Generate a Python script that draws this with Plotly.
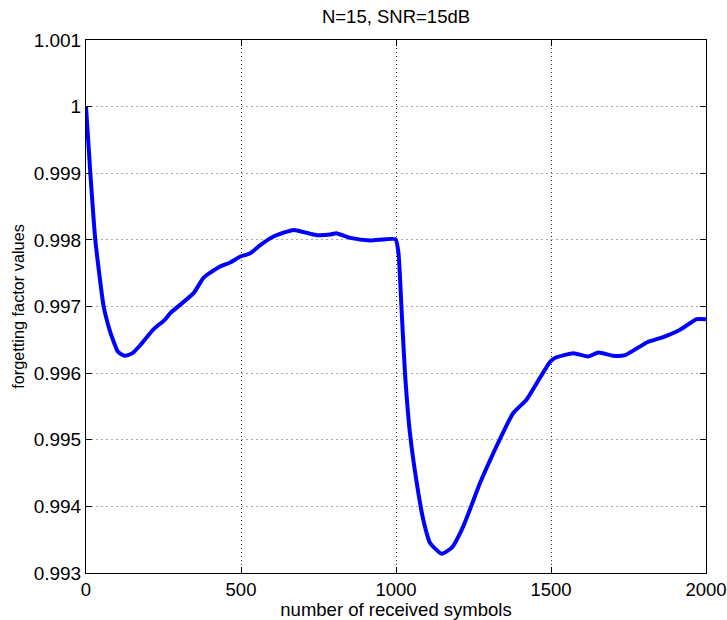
import plotly.graph_objects as go

symbols = [0, 14, 30, 57, 76, 87, 103, 125, 150, 175, 216, 254, 272, 347, 379, 428,
           465, 498, 530, 562, 605, 670, 724, 745, 788, 807, 853, 917, 998, 1008,
           1018, 1029, 1045, 1067, 1088, 1110, 1147, 1180, 1217, 1271, 1314, 1378,
           1421, 1454, 1497, 1514, 1572, 1620, 1653, 1701, 1739, 1809, 1862, 1916,
           1970, 2000]
forgetting = [1.00000, 0.99900, 0.99800, 0.99700, 0.99665, 0.99650, 0.99632, 0.99626,
              0.99630, 0.99642, 0.99665, 0.99680, 0.99690, 0.99720, 0.99743, 0.99759,
              0.99766, 0.99775, 0.99780, 0.99792, 0.99805, 0.99815, 0.99809, 0.99807,
              0.99808, 0.99810, 0.99803, 0.99799, 0.99801, 0.99780,
              0.99695, 0.99600, 0.99510, 0.99435, 0.99380, 0.99345, 0.99329, 0.99338,
              0.99370, 0.99435, 0.99480, 0.99540, 0.99560, 0.99585, 0.99617, 0.99623,
              0.99630, 0.99625, 0.99631, 0.99626, 0.99627, 0.99646, 0.99654, 0.99665,
              0.99681, 0.99681]

x_ticks = [0, 500, 1000, 1500, 2000]
y_ticks = [0.993, 0.994, 0.995, 0.996, 0.997, 0.998, 0.999, 1.0, 1.001]
y_tick_labels = ["0.993", "0.994", "0.995", "0.996", "0.997", "0.998", "0.999", "1", "1.001"]

fig = go.Figure()
fig.add_trace(go.Scatter(x=symbols, y=forgetting, mode="lines",
                         line=dict(color="#0000FF", width=4, shape="spline", smoothing=0.5),
                         showlegend=False, hoverinfo="skip"))

font = "Liberation Sans, Arial, Helvetica, sans-serif"
fig.update_layout(
    width=727, height=620,
    margin=dict(l=86, r=21, t=40, b=47, autoexpand=False),
    paper_bgcolor="white", plot_bgcolor="white",
    font=dict(family=font, size=18, color="black"),
    title=dict(text="N=15, SNR=15dB", xref="paper", x=0.5, xanchor="center",
               yref="container", y=1 - 17 / 620, yanchor="middle", font=dict(size=18.5)),
    hovermode=False,
)
fig.update_xaxes(range=[0, 2000], tickvals=x_ticks, showline=True, linecolor="black",
                 linewidth=1, mirror="ticks", ticks="inside", ticklen=6, tickcolor="black",
                 showgrid=True, gridcolor="#333333", griddash="1px,3px", gridwidth=1,
                 zeroline=False, automargin=False, tickfont=dict(size=18.5),
                 title=dict(text="number of received symbols", font=dict(size=18.5), standoff=2))
fig.update_yaxes(range=[0.993, 1.001], tickvals=y_ticks, ticktext=y_tick_labels,
                 showline=True, linecolor="black", linewidth=1, mirror="ticks",
                 ticks="inside", ticklen=6, tickcolor="black",
                 showgrid=True, gridcolor="#a8a8a8", griddash="2px,3px", gridwidth=1,
                 zeroline=False, automargin=False, tickfont=dict(size=19),
                 title=dict(text="forgetting factor values", font=dict(size=16.3), standoff=4))

fig.write_html("out.html", config={"displayModeBar": False},
               post_script="document.body.style.margin='0';document.body.style.padding='0';")
